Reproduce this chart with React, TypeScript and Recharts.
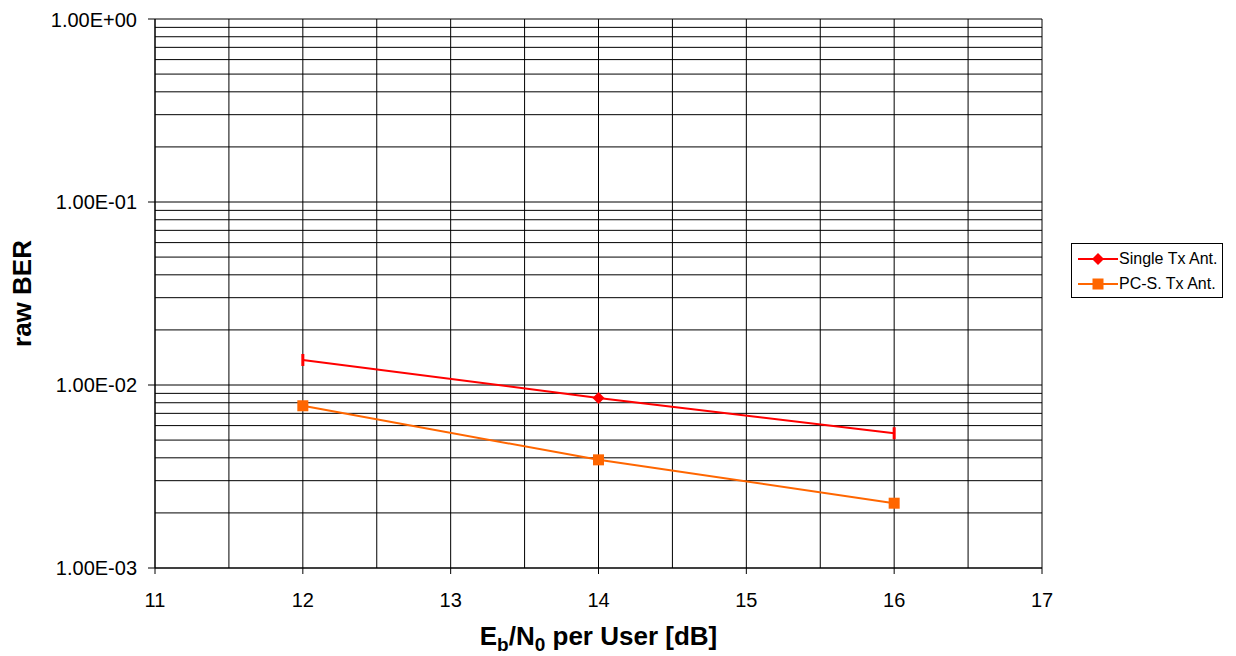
import React from 'react';
import { LineChart, Line, XAxis, YAxis, CartesianGrid, Legend, Label, ReferenceLine } from 'recharts';

const snr = [12, 14, 16];
const singleTx = [0.0137, 0.0085, 0.00545];
const pcsTx = [0.0077, 0.0039, 0.00226];

const xTicks = [11, 12, 13, 14, 15, 16, 17];
const xGrid = [11, 11.5, 12, 12.5, 13, 13.5, 14, 14.5, 15, 15.5, 16, 16.5, 17];
const yTicks = [0.001, 0.01, 0.1, 1];
const yGrid = [0.001, 0.01, 0.1].flatMap((d) => [1, 2, 3, 4, 5, 6, 7, 8, 9].map((m) => m * d)).concat([1]);

const data = snr.map((x, i) => ({ x, single: singleTx[i], pcs: pcsTx[i] }));

const FONT = '"Liberation Sans", Arial, sans-serif';
const RED = '#ff0000';
const ORANGE = '#ff6600';

const fmtExp = (v: number) => {
  const e = Math.round(Math.log10(v));
  const m = v / Math.pow(10, e);
  return `${m.toFixed(2)}E${e < 0 ? '-' : '+'}${String(Math.abs(e)).padStart(2, '0')}`;
};

const RedDot = (props: any) => {
  const { cx, cy, index } = props;
  if (cx == null || cy == null) return null;
  if (index === 1) {
    return <path key={`r${index}`} d={`M${cx},${cy - 6}L${cx + 6},${cy}L${cx},${cy + 6}L${cx - 6},${cy}Z`} fill={RED} />;
  }
  return <rect key={`r${index}`} x={cx - 1.5} y={cy - 6} width={3} height={12} fill={RED} />;
};

const OrangeDot = (props: any) => {
  const { cx, cy, index } = props;
  if (cx == null || cy == null) return null;
  return <rect key={`o${index}`} x={cx - 5.5} y={cy - 5.5} width={11} height={11} fill={ORANGE} />;
};

const LegendBox = () => (
  <div
    style={{
      border: '1px solid #000',
      width: 150,
      height: 53,
      boxSizing: 'content-box',
      fontFamily: FONT,
      fontSize: 16,
      background: '#fff',
    }}
  >
    {[
      { name: 'Single Tx Ant.', color: RED, diamond: true },
      { name: 'PC-S. Tx Ant.', color: ORANGE, diamond: false },
    ].map((it, i) => (
      <div key={it.name} style={{ display: 'flex', alignItems: 'center', height: 25, marginTop: i === 0 ? 2 : 0, whiteSpace: 'nowrap' }}>
        <svg width={44} height={20} style={{ marginLeft: 4, flex: 'none' }}>
          <line x1={2} y1={10} x2={42} y2={10} stroke={it.color} strokeWidth={2} />
          {it.diamond ? (
            <path d="M22,4L28,10L22,16L16,10Z" fill={it.color} />
          ) : (
            <rect x={16.5} y={4.5} width={11} height={11} fill={it.color} />
          )}
        </svg>
        <span style={{ marginLeft: -1 }}>{it.name}</span>
      </div>
    ))}
  </div>
);

const XTitle = (props: any) => {
  const vb = props.viewBox || {};
  const cx = vb.x + vb.width / 2;
  return (
    <text x={cx} y={637} textAnchor="middle" fontFamily={FONT} fontWeight="bold" fontSize={26} fill="#000">
      E<tspan fontSize={19} dy={6}>b</tspan>
      <tspan dy={-6}>/N</tspan>
      <tspan fontSize={19} dy={6}>0</tspan>
      <tspan dy={-6}> per User [dB]</tspan>
    </text>
  );
};

export default function App() {
  return (
    <LineChart
      width={1220}
      height={648}
      data={data}
      margin={{ top: 11, right: 186, left: 0, bottom: 0 }}
      style={{ fontFamily: FONT }}
    >
      <CartesianGrid stroke="#000" strokeWidth={1} horizontal={false} verticalValues={xGrid} />
      {yGrid.map((v) => (
        <ReferenceLine key={v} y={v} stroke="#000" strokeWidth={1} />
      ))}
      <XAxis
        dataKey="x"
        type="number"
        domain={[11, 17]}
        ticks={xTicks}
        height={88}
        tickSize={6}
        tickMargin={19}
        stroke="#000"
        tick={{ fill: '#000', fontSize: 20, fontFamily: FONT }}
      >
        <Label content={<XTitle />} />
      </XAxis>
      <YAxis
        scale="log"
        domain={[0.001, 1]}
        ticks={yTicks}
        allowDataOverflow
        width={147}
        tickSize={7}
        tickMargin={11}
        stroke="#000"
        tickFormatter={fmtExp}
        tick={{ fill: '#000', fontSize: 20, fontFamily: FONT }}
      >
        <Label
          value="raw BER"
          angle={-90}
          position="insideLeft"
          offset={14}
          style={{ fontFamily: FONT, fontWeight: 'bold', fontSize: 26, fill: '#000', textAnchor: 'middle' }}
        />
      </YAxis>
      <Legend
        layout="horizontal"
        align="center"
        verticalAlign="middle"
        content={<LegendBox />}
        wrapperStyle={{ left: 1063, top: 235, width: 152, height: 55 }}
      />
      <Line
        dataKey="single"
        name="Single Tx Ant."
        stroke={RED}
        strokeWidth={2}
        dot={<RedDot />}
        isAnimationActive={false}
      />
      <Line
        dataKey="pcs"
        name="PC-S. Tx Ant."
        stroke={ORANGE}
        strokeWidth={2}
        dot={<OrangeDot />}
        isAnimationActive={false}
      />
    </LineChart>
  );
}
